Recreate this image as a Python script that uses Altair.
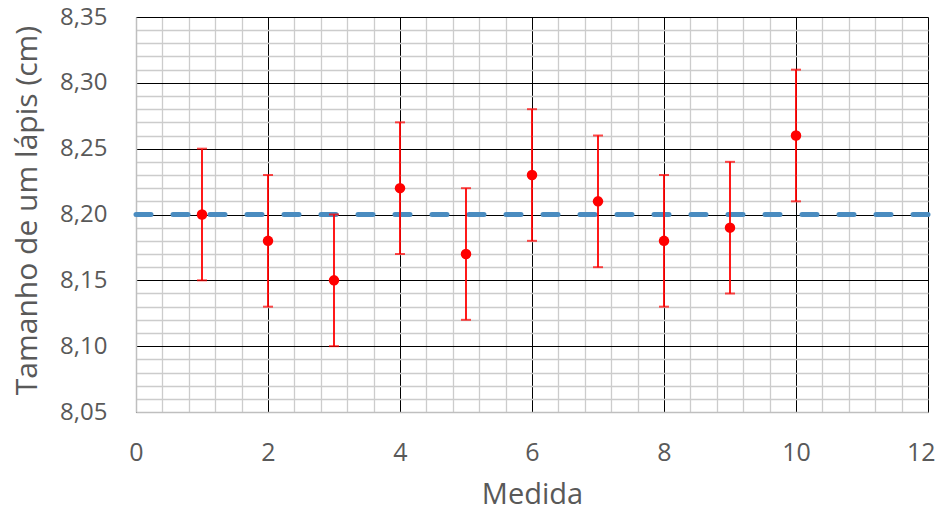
import altair as alt
import pandas as pd

# Data
medida = [1, 2, 3, 4, 5, 6, 7, 8, 9, 10]
tamanho = [8.20, 8.18, 8.15, 8.22, 8.17, 8.23, 8.21, 8.18, 8.19, 8.26]
erro = [0.05] * 10
referencia = [8.20]

x_labels = [0, 2, 4, 6, 8, 10, 12]
x_minor = [round(i * 0.4, 2) for i in range(1, 30) if i % 5 != 0]
y_labels = [8.05, 8.10, 8.15, 8.20, 8.25, 8.30, 8.35]
y_minor = [round(8.05 + i * 0.01, 2) for i in range(1, 30) if i % 5 != 0]

df = pd.DataFrame({
    "Medida": medida,
    "Tamanho": tamanho,
    "lo": [t - e for t, e in zip(tamanho, erro)],
    "hi": [t + e for t, e in zip(tamanho, erro)],
})
ref_df = pd.DataFrame({"ref": referencia})

FONT = "Open Sans"
LABEL_COLOR = "#595959"
xscale = alt.Scale(domain=[0, 12], nice=False, zero=False)
yscale = alt.Scale(domain=[8.05, 8.35], nice=False, zero=False)

# Minor grid layer
minor = alt.Chart(df).mark_point(opacity=0).encode(
    x=alt.X("Medida:Q", scale=xscale, axis=alt.Axis(
        orient="bottom", values=x_minor, grid=True, gridColor="#cccccc", gridWidth=1.3,
        labels=False, ticks=False, domain=False, title=None)),
    y=alt.Y("Tamanho:Q", scale=yscale, axis=alt.Axis(
        orient="left", values=y_minor, grid=True, gridColor="#cccccc", gridWidth=1.3,
        labels=False, ticks=False, domain=False, title=None)),
)

# Major grid + labels layer
major = alt.Chart(df).mark_point(opacity=0).encode(
    x=alt.X("Medida:Q", scale=xscale, axis=alt.Axis(
        orient="bottom", values=x_labels, grid=True, gridColor="#000000", gridWidth=1,
        gridOpacity=1, ticks=False, tickSize=0,
        domain=True, domainColor="#bfbfbf", domainWidth=1.5,
        labelFont=FONT, labelFontSize=25, labelColor=LABEL_COLOR,
        labelPadding=40, labelBaseline="middle", labelFlush=False,
        labelAlign={"condition": {"test": "datum.value == 12", "value": "right"}, "value": "center"},
        labelOffset={"condition": {"test": "datum.value == 12", "value": 7}, "value": 0},
        title="Medida", titleFont=FONT, titleFontSize=29, titleFontWeight="normal",
        titleColor=LABEL_COLOR, titleY=91, titleBaseline="alphabetic")),
    y=alt.Y("Tamanho:Q", scale=yscale, axis=alt.Axis(
        orient="left", values=y_labels, grid=True, gridColor="#000000", gridWidth=1,
        ticks=False, tickSize=0,
        domain=True, domainColor="#bfbfbf", domainWidth=1.5,
        labelFont=FONT, labelFontSize=24, labelColor=LABEL_COLOR,
        labelPadding=29, labelFlush=False,
        labelExpr="replace(format(datum.value, '.2f'), '.', ',')",
        title="Tamanho de um lápis (cm)", titleFont=FONT, titleFontSize=30,
        titleFontWeight="normal", titleColor=LABEL_COLOR,
        titleX=-109, titleY=193, titleBaseline="middle", titleAlign="center",
        titleAngle=270)),
)

ref_line = alt.Chart(ref_df).mark_rule(
    color="#4a8cc0", strokeWidth=5, strokeDash=[15, 22], strokeCap="round"
).encode(y=alt.Y("ref:Q", scale=yscale, axis=None))

bars = alt.Chart(df).mark_rule(color="#ff0000", strokeWidth=1.8).encode(
    x=alt.X("Medida:Q", scale=xscale, axis=None),
    y=alt.Y("lo:Q", scale=yscale, axis=None),
    y2="hi:Q",
)
cap_lo = alt.Chart(df).mark_tick(color="#ff0000", orient="horizontal", size=10, thickness=2).encode(
    x=alt.X("Medida:Q", scale=xscale, axis=None),
    y=alt.Y("lo:Q", scale=yscale, axis=None),
)
cap_hi = alt.Chart(df).mark_tick(color="#ff0000", orient="horizontal", size=10, thickness=2).encode(
    x=alt.X("Medida:Q", scale=xscale, axis=None),
    y=alt.Y("hi:Q", scale=yscale, axis=None),
)
points = alt.Chart(df).mark_circle(color="#ff0000", size=110, opacity=1).encode(
    x=alt.X("Medida:Q", scale=xscale, axis=None),
    y=alt.Y("Tamanho:Q", scale=yscale, axis=None),
)

chart = alt.layer(minor, major, ref_line, bars, cap_lo, cap_hi, points).resolve_axis(
    x="independent", y="independent"
).properties(
    width=792, height=395,
    autosize=alt.AutoSizeParams(type="none"),
    padding={"left": 128, "top": 9, "right": 8, "bottom": 92},
).configure_view(stroke=None).configure(background="white")

chart.save("out.html", embed_options={"renderer": "svg", "actions": False})
